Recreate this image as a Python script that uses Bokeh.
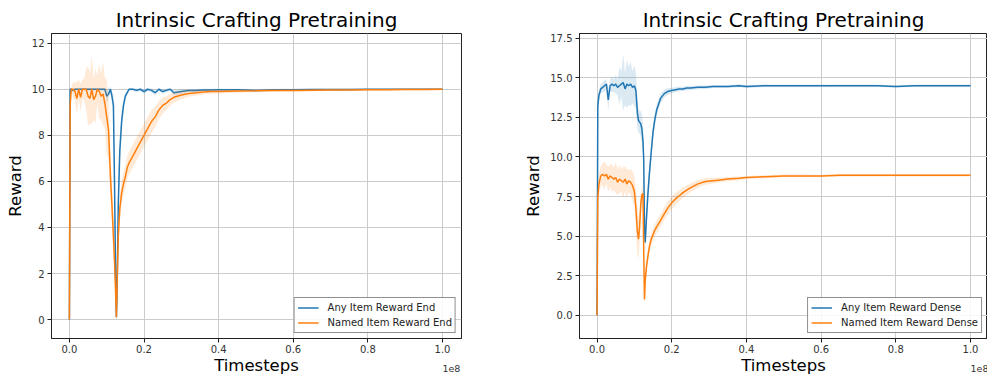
from bokeh.plotting import figure
from bokeh.layouts import row
from bokeh.models import FixedTicker, PrintfTickFormatter, Label, Range1d
from bokeh.embed import file_html
from bokeh.resources import INLINE

# ---------------- data (timesteps in units of 1e8) ----------------
steps_end = [0.0, 0.002, 0.005, 0.01, 0.015, 0.02, 0.025, 0.03, 0.035, 0.04,
             0.045, 0.05, 0.055, 0.06, 0.065, 0.07, 0.075, 0.08, 0.085, 0.09,
             0.095, 0.1, 0.105, 0.11, 0.114, 0.118, 0.121, 0.124, 0.126, 0.128,
             0.131, 0.135, 0.14, 0.145, 0.15, 0.155, 0.16, 0.17, 0.18, 0.19,
             0.2, 0.21, 0.22, 0.23, 0.24, 0.25, 0.26, 0.27, 0.28, 0.3,
             0.32, 0.34, 0.36, 0.38, 0.4, 0.45, 0.5, 0.55, 0.6, 0.65,
             0.7, 0.75, 0.8, 0.85, 0.9, 0.95, 1.0]
any_end = [0.0, 10.0, 10.0, 9.95, 10.0, 10.0, 10.0, 10.0, 10.0, 10.0,
           10.0, 10.0, 10.0, 10.0, 10.0, 10.0, 10.0, 10.0, 10.0, 10.0,
           10.0, 9.7, 9.8, 10.0, 9.7, 9.3, 5.8, 1.8, 0.1, 1.5,
           5.0, 7.3, 8.6, 9.3, 9.7, 9.85, 10.0, 10.0, 9.95, 10.0,
           9.9, 10.0, 9.95, 9.85, 10.0, 9.9, 9.95, 10.0, 9.85, 9.9,
           9.95, 9.95, 9.97, 9.97, 9.98, 9.98, 9.95, 9.98, 9.98, 9.99,
           9.99, 9.99, 10.0, 10.0, 10.0, 10.0, 10.0]
any_end_std = [0.0, 0.05, 0.05, 0.08, 0.05, 0.05, 0.05, 0.05, 0.05, 0.05,
               0.05, 0.05, 0.05, 0.05, 0.05, 0.05, 0.05, 0.05, 0.05, 0.05,
               0.05, 0.3, 0.25, 0.1, 0.2, 0.5, 0.9, 0.6, 0.15, 0.6,
               0.8, 0.7, 0.4, 0.25, 0.15, 0.08, 0.05, 0.05, 0.08, 0.05,
               0.1, 0.05, 0.08, 0.12, 0.05, 0.1, 0.08, 0.05, 0.12, 0.1,
               0.06, 0.06, 0.05, 0.05, 0.04, 0.04, 0.06, 0.04, 0.04, 0.03,
               0.03, 0.03, 0.02, 0.02, 0.02, 0.02, 0.02]
named_end = [0.0, 9.3, 10.0, 10.0, 9.9, 9.6, 10.0, 9.65, 10.0, 10.0,
             10.0, 9.7, 9.6, 10.0, 9.55, 9.7, 10.0, 9.9, 9.7, 9.8,
             9.4, 8.8, 8.2, 6.2, 5.0, 3.6, 2.5, 1.1, 0.1, 1.6,
             3.6, 4.8, 5.5, 5.9, 6.2, 6.6, 6.8, 7.1, 7.4, 7.7,
             8.0, 8.3, 8.6, 8.8, 9.1, 9.3, 9.4, 9.55, 9.65, 9.75,
             9.82, 9.85, 9.88, 9.9, 9.9, 9.92, 9.93, 9.95, 9.95, 9.96,
             9.97, 9.97, 9.98, 9.98, 9.99, 9.99, 10.0]
named_end_std = [0.0, 0.5, 0.1, 0.3, 0.4, 0.7, 0.4, 0.6, 0.4, 0.5,
                 0.9, 1.3, 1.1, 1.5, 0.9, 1.2, 0.6, 1.2, 1.0, 1.4,
                 1.1, 1.6, 1.3, 1.0, 0.8, 0.7, 0.6, 0.4, 0.15, 0.5,
                 0.5, 0.5, 0.5, 0.5, 0.5, 0.5, 0.5, 0.5, 0.5, 0.5,
                 0.5, 0.5, 0.5, 0.45, 0.4, 0.35, 0.3, 0.27, 0.22, 0.18,
                 0.15, 0.12, 0.1, 0.1, 0.08, 0.07, 0.06, 0.06, 0.05, 0.05,
                 0.05, 0.05, 0.04, 0.04, 0.04, 0.04, 0.04]

steps_dense = [0.0, 0.002, 0.005, 0.01, 0.015, 0.02, 0.025, 0.03, 0.035, 0.04,
               0.045, 0.05, 0.055, 0.06, 0.065, 0.07, 0.075, 0.08, 0.085, 0.09,
               0.095, 0.1, 0.104, 0.108, 0.111, 0.114, 0.117, 0.12, 0.123, 0.125,
               0.127, 0.129, 0.132, 0.136, 0.14, 0.145, 0.15, 0.155, 0.16, 0.17,
               0.18, 0.19, 0.2, 0.21, 0.22, 0.23, 0.24, 0.25, 0.27, 0.29,
               0.31, 0.33, 0.35, 0.38, 0.4, 0.45, 0.5, 0.55, 0.6, 0.65,
               0.7, 0.75, 0.8, 0.85, 0.9, 0.95, 1.0]
any_dense = [0.0, 13.2, 13.9, 14.3, 14.4, 14.5, 14.6, 13.6, 14.5, 14.6,
             14.5, 14.6, 14.4, 14.5, 14.6, 14.7, 14.3, 14.6, 14.5, 14.6,
             14.4, 14.5, 14.2, 12.8, 12.3, 12.2, 12.1, 11.8, 11.0, 9.8,
             5.5, 4.6, 6.0, 7.6, 8.9, 10.3, 11.6, 12.4, 13.0, 13.7,
             14.0, 14.15, 14.2, 14.25, 14.3, 14.3, 14.35, 14.35, 14.4, 14.4,
             14.45, 14.45, 14.45, 14.5, 14.45, 14.5, 14.5, 14.5, 14.5, 14.5,
             14.5, 14.5, 14.45, 14.5, 14.5, 14.5, 14.5]
any_dense_std = [0.0, 0.6, 0.4, 0.3, 0.3, 0.4, 0.3, 0.7, 0.4, 0.5,
                 0.4, 0.6, 0.5, 1.2, 0.8, 1.8, 1.0, 1.5, 1.2, 1.4,
                 1.0, 1.3, 1.1, 1.0, 0.8, 0.7, 0.8, 0.9, 0.9, 0.9,
                 0.6, 0.6, 0.8, 0.7, 0.6, 0.5, 0.45, 0.4, 0.35, 0.3,
                 0.25, 0.2, 0.18, 0.16, 0.15, 0.14, 0.13, 0.12, 0.12, 0.11,
                 0.1, 0.1, 0.1, 0.09, 0.09, 0.08, 0.08, 0.08, 0.08, 0.07,
                 0.07, 0.07, 0.07, 0.07, 0.07, 0.07, 0.07]
named_dense = [0.0, 7.4, 8.3, 8.8, 8.9, 8.8, 8.9, 8.6, 8.8, 8.7,
               8.6, 8.7, 8.4, 8.6, 8.5, 8.4, 8.6, 8.3, 8.5, 8.4,
               8.2, 7.8, 6.8, 5.3, 4.8, 5.6, 7.0, 7.6, 7.7, 4.0,
               1.0, 2.2, 3.0, 3.7, 4.3, 4.8, 5.1, 5.4, 5.6, 6.0,
               6.4, 6.8, 7.1, 7.35, 7.55, 7.75, 7.9, 8.05, 8.3, 8.45,
               8.5, 8.55, 8.6, 8.65, 8.7, 8.75, 8.8, 8.8, 8.8, 8.85,
               8.85, 8.85, 8.85, 8.85, 8.85, 8.85, 8.85]
named_dense_std = [0.0, 0.8, 0.7, 0.6, 0.7, 0.9, 0.6, 0.8, 0.7, 0.9,
                   0.7, 1.0, 0.8, 0.9, 0.7, 1.0, 0.8, 0.9, 0.7, 0.8,
                   0.9, 1.0, 1.2, 1.5, 1.3, 1.0, 0.7, 0.5, 0.5, 0.6,
                   0.3, 0.4, 0.4, 0.4, 0.4, 0.4, 0.4, 0.4, 0.4, 0.4,
                   0.4, 0.4, 0.4, 0.38, 0.35, 0.32, 0.3, 0.28, 0.25, 0.2,
                   0.18, 0.15, 0.13, 0.12, 0.1, 0.1, 0.09, 0.09, 0.08, 0.08,
                   0.08, 0.08, 0.08, 0.08, 0.08, 0.08, 0.08]

x_ticks = [0.0, 0.2, 0.4, 0.6, 0.8, 1.0]
y_ticks_end = [0, 2, 4, 6, 8, 10, 12]
y_ticks_dense = [0.0, 2.5, 5.0, 7.5, 10.0, 12.5, 15.0, 17.5]

title_text = "Intrinsic Crafting Pretraining"
x_label = "Timesteps"
y_label = "Reward"
offset_text = "1e8"

BLUE = "#1f77b4"
ORANGE = "#ff7f0e"
FONT = "DejaVu Sans"


def make_panel(width, border_left, border_right, x_range, y_range, y_ticks,
               y_fmt, steps, series, off_x, off_y, off_align, off_side):
    p = figure(width=width, height=377, output_backend="svg", toolbar_location=None,
               x_range=Range1d(*x_range), y_range=Range1d(*y_range),
               min_border_left=border_left, min_border_right=border_right,
               min_border_top=33, min_border_bottom=38)
    p.background_fill_color = "white"
    p.border_fill_color = "white"
    p.outline_line_color = "#222222"
    p.outline_line_width = 1

    p.title.text = title_text
    p.title.align = "center"
    p.title.text_font = FONT
    p.title.text_font_size = "20px"
    p.title.text_font_style = "normal"
    p.title.text_color = "black"
    p.title.standoff = 4

    for (mean, std, color, label) in series:
        lower = [m - s for m, s in zip(mean, std)]
        upper = [m + s for m, s in zip(mean, std)]
        p.varea(x=steps, y1=lower, y2=upper, fill_color=color, fill_alpha=0.16)
        p.line(x=steps, y=mean, line_color=color, line_width=1.5, legend_label=label)

    p.xaxis.ticker = FixedTicker(ticks=x_ticks)
    p.xaxis.formatter = PrintfTickFormatter(format="%.1f")
    p.yaxis.ticker = FixedTicker(ticks=y_ticks)
    p.yaxis.formatter = PrintfTickFormatter(format=y_fmt)
    for ax in (p.xaxis[0], p.yaxis[0]):
        ax.minor_tick_line_color = None
        ax.major_tick_in = 0
        ax.major_tick_out = 4
        ax.major_tick_line_color = "#222222"
        ax.axis_line_color = "#222222"
        ax.major_label_text_font = FONT
        ax.major_label_text_font_size = "10px"
        ax.major_label_text_color = "#333333"
        ax.axis_label_text_font = FONT
        ax.axis_label_text_font_size = "16.5px"
        ax.axis_label_text_font_style = "normal"
        ax.axis_label_text_color = "black"
    p.yaxis.major_label_standoff = 3
    p.yaxis.axis_label = y_label
    p.yaxis.axis_label_standoff = 4
    p.xaxis.major_label_standoff = 2
    p.xaxis.axis_label = x_label
    p.xaxis.axis_label_standoff = 0

    p.xgrid.ticker = FixedTicker(ticks=x_ticks)
    p.ygrid.ticker = FixedTicker(ticks=y_ticks)
    for g in (p.xgrid[0], p.ygrid[0]):
        g.grid_line_color = "#cccccc"
        g.grid_line_width = 1

    # offset text of the x axis, placed in a side panel so it is not clipped to the frame
    p.add_layout(Label(x=off_x, y=off_y, text=offset_text, text_align=off_align,
                       text_baseline="alphabetic", text_font=FONT,
                       text_font_size="9.5px", text_color="#333333"), off_side)

    lg = p.legend[0]
    lg.location = "bottom_right"
    lg.border_line_color = "#222222"
    lg.border_line_width = 1
    lg.background_fill_color = "white"
    lg.background_fill_alpha = 0.85
    lg.label_text_font = FONT
    lg.label_text_font_size = "10px"
    lg.label_text_color = "#222222"
    lg.glyph_width = 21
    lg.glyph_height = 13
    lg.label_height = 13
    lg.label_standoff = 9
    lg.spacing = 2
    lg.padding = 3
    lg.margin = 5
    return p


p1 = make_panel(490, 51, 29, (-0.048, 1.051), (-0.82, 12.42), y_ticks_end, "%d",
                steps_end,
                [(any_end, any_end_std, BLUE, "Any Item Reward End"),
                 (named_end, named_end_std, ORANGE, "Named Item Reward End")],
                1.048, -2.12, "right", "right")
p2 = make_panel(497, 89, 0, (-0.047, 1.0455), (-1.47, 17.8), y_ticks_dense, "%.1f",
                steps_dense,
                [(any_dense, any_dense_std, BLUE, "Any Item Reward Dense"),
                 (named_dense, named_dense_std, ORANGE, "Named Item Reward Dense")],
                1.0, -3.36, "left", "left")

layout = row(p1, p2)
open("out.html", "w").write(file_html(layout, INLINE))
